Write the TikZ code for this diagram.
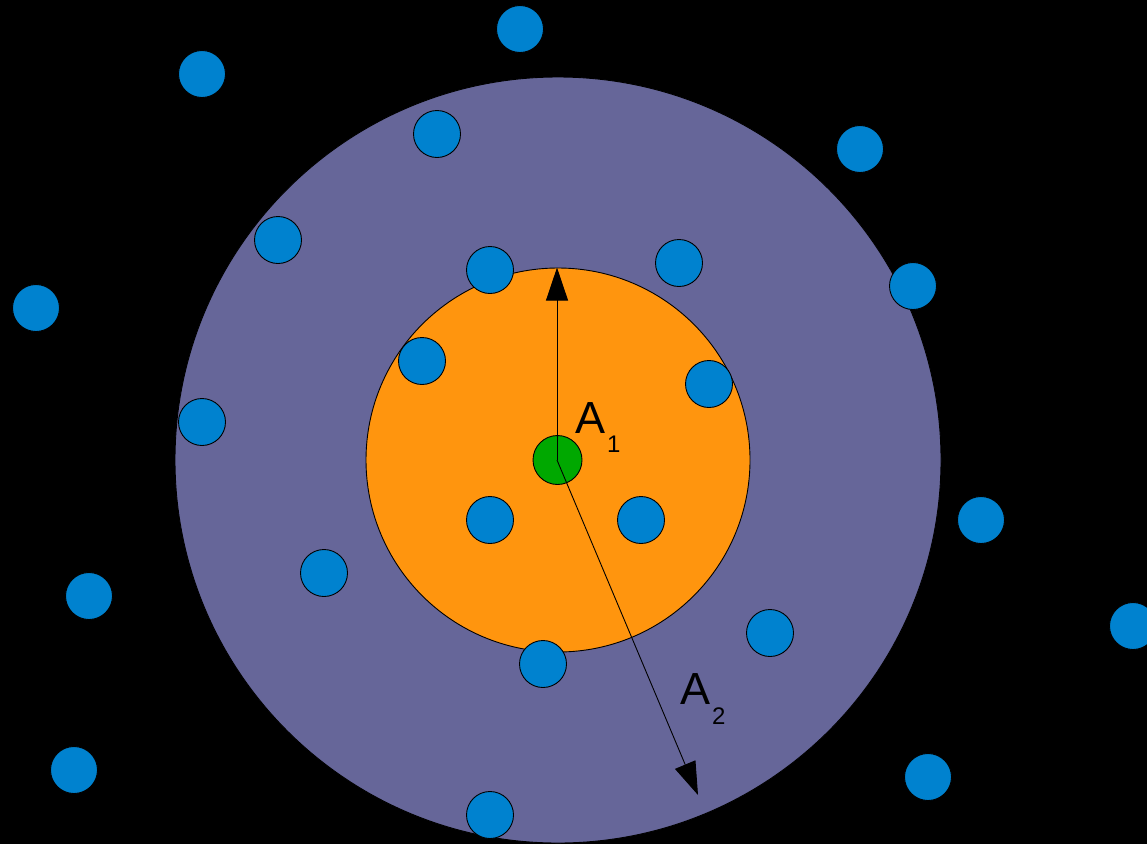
\documentclass[tikz,border=0pt]{standalone}
\usepackage{fontspec}
\setmainfont{Liberation Sans}
\usetikzlibrary{arrows.meta}
\definecolor{bg}{RGB}{0,0,0}
\definecolor{purp}{RGB}{102,102,153}
\definecolor{orng}{RGB}{255,149,14}
\definecolor{grn}{RGB}{0,168,0}
\definecolor{blu}{RGB}{0,130,207}
\tikzset{
  dot/.style={circle,draw=black,line width=0.9pt,fill=blu,minimum size=47pt,inner sep=0pt},
  disk/.style={circle,draw=black,line width=0.9pt,inner sep=0pt},
  ray/.style={line width=0.9pt,-{Triangle[length=33pt,width=22pt]}},
  lbl/.style={inner sep=0pt,anchor=base west,font=\fontsize{45}{45}\selectfont},
  sub/.style={inner sep=0pt,anchor=base west,font=\fontsize{24}{24}\selectfont}
}
\begin{document}
\begin{tikzpicture}[x=1pt,y=-1pt]
\fill[bg] (0,0) rectangle (1147,844);
\useasboundingbox (0,0) rectangle (1147,844);
\node[disk,fill=purp,minimum size=766pt] (outer) at (558,460) {};
\node[disk,fill=orng,minimum size=384pt] (inner) at (558,460) {};
\node[disk,fill=grn,minimum size=49pt] (core) at (557.5,460) {};
\coordinate (ctr) at (557,460);
\coordinate (a2end) at (698,795);
% dots
\node[dot] (d1) at (520,29) {};
\node[dot] (d2) at (202,74) {};
\node[dot] (d3) at (437,134) {};
\node[dot] (d4) at (860,149) {};
\node[dot] (d5) at (278,240) {};
\node[dot] (d6) at (490,270) {};
\node[dot] (d7) at (679,263) {};
\node[dot] (d8) at (913,286) {};
\node[dot] (d9) at (36,308) {};
\node[dot] (d10) at (422,361) {};
\node[dot] (d11) at (709,384) {};
\node[dot] (d12) at (202,422) {};
\node[dot] (d13) at (490,520) {};
\node[dot] (d14) at (641,520) {};
\node[dot] (d15) at (981,520) {};
\node[dot] (d16) at (324,573) {};
\node[dot] (d17) at (89,596) {};
\node[dot] (d18) at (1133,626) {};
\node[dot] (d19) at (770,633) {};
\node[dot] (d20) at (543,664) {};
\node[dot] (d21) at (74,770) {};
\node[dot] (d22) at (928,777) {};
\node[dot] (d23) at (490,815) {};
% arrows
\draw[ray] (ctr) -- (ctr |- inner.north);
\draw[ray] (ctr) -- (a2end);
% labels
\node[lbl] (a1) at (575,433) {A};
\node[sub] (s1) at (607,452) {1};
\node[lbl] (a2) at (680,704) {A};
\node[sub] (s2) at (712,724) {2};
\end{tikzpicture}
\end{document}
